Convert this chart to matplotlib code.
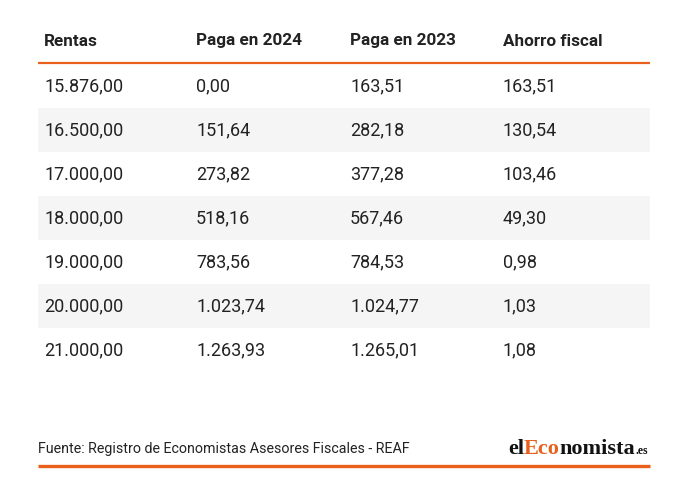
import matplotlib.pyplot as plt
from matplotlib.patches import Rectangle

plt.rcParams['font.family'] = ['Roboto', 'DejaVu Sans']

columnas = ['Rentas', 'Paga en 2024', 'Paga en 2023', 'Ahorro fiscal']
rentas = ['15.876,00', '16.500,00', '17.000,00', '18.000,00', '19.000,00', '20.000,00', '21.000,00']
paga_2024 = ['0,00', '151,64', '273,82', '518,16', '783,56', '1.023,74', '1.263,93']
paga_2023 = ['163,51', '282,18', '377,28', '567,46', '784,53', '1.024,77', '1.265,01']
ahorro = ['163,51', '130,54', '103,46', '49,30', '0,98', '1,03', '1,08']
fuente = 'Fuente: Registro de Economistas Asesores Fiscales - REAF'

naranja = '#e8601c'

fig = plt.figure(figsize=(6.9, 4.83), dpi=100)
ax = fig.add_axes([0, 0, 1, 1])
ax.set_xlim(0, 690)
ax.set_ylim(483, 0)
ax.axis('off')

col_x = [44, 196, 350, 503]
izq, der = 38, 650

# cabecera
for x, c in zip(col_x, columnas):
    ax.text(x, 41, c, fontsize=12.3, fontweight='bold', color='#222222', va='center')
ax.plot([izq, der], [63, 63], color=naranja, lw=1.6, solid_capstyle='butt')

# filas
alto = 44
filas = list(zip(rentas, paga_2024, paga_2023, ahorro))
for i, fila in enumerate(filas):
    yc = 86 + i * alto
    if i % 2 == 1:
        ax.add_patch(Rectangle((izq, yc - alto / 2), der - izq, alto, color='#f5f5f5', lw=0))
    for x, v in zip(col_x, fila):
        ax.text(x, yc, v, fontsize=13, color='#222222', va='center')

# pie
ax.text(izq, 449, fuente, fontsize=10.25, color='#222222', va='center')
ax.plot([izq, der], [466, 466], color=naranja, lw=2.4, solid_capstyle='butt')

# logo
logo = [('el', '#111111', 16), ('Eco', naranja, 16), ('nomista', '#111111', 16), ('.es', '#111111', 8.5)]
r = fig.canvas.get_renderer()
partes = []
x = 0
for txt, col, fs in logo:
    t = ax.text(x, 454, txt, fontsize=fs, color=col, family='Liberation Serif',
                fontweight='bold', va='baseline')
    partes.append(t)
    x += t.get_window_extent(renderer=r).width
x = 648 - x
for t in partes:
    t.set_x(x)
    x += t.get_window_extent(renderer=r).width

fig.savefig('out.png', dpi=100)
